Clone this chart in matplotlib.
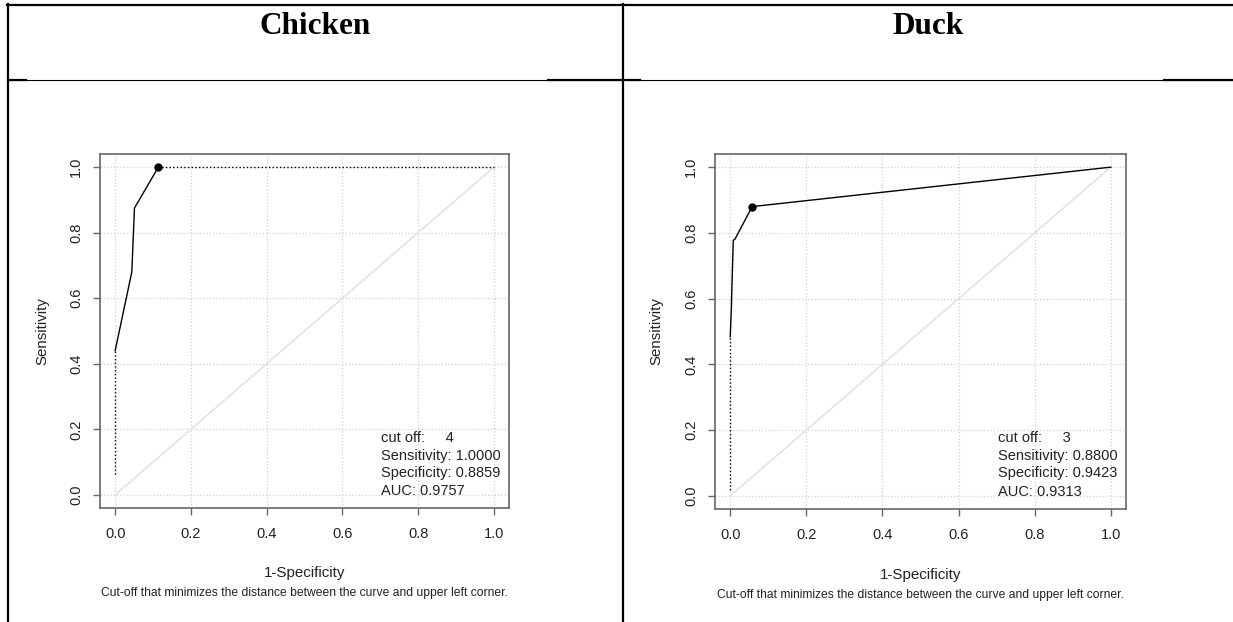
import matplotlib
matplotlib.use("Agg")
import matplotlib.pyplot as plt
import numpy as np

plt.rcParams['font.family'] = ['Liberation Sans', 'DejaVu Sans']

# Panel titles (table header)
species = ["Chicken", "Duck"]

# ROC curve points (1-Specificity, Sensitivity)
chicken_fpr = [0.0, 0.0, 0.044, 0.051, 0.1141, 1.0]
chicken_tpr = [0.065, 0.44, 0.68, 0.875, 1.0, 1.0]
duck_fpr = [0.0, 0.0, 0.003, 0.005, 0.008, 0.012, 0.0577, 1.0]
duck_tpr = [0.018, 0.484, 0.57, 0.657, 0.778, 0.78, 0.88, 1.0]

# Optimal cut-off summary
cutoffs = [4, 3]
sensitivity = [1.0000, 0.8800]
specificity = [0.8859, 0.9423]
auc = [0.9757, 0.9313]

ticks = [0.0, 0.2, 0.4, 0.6, 0.8, 1.0]
tick_labels = ["0.0", "0.2", "0.4", "0.6", "0.8", "1.0"]

W, H = 1233, 622
fig = plt.figure(figsize=(W / 100, H / 100), dpi=100)

# --- table borders (pixel overlay) ---
ov = fig.add_axes([0, 0, 1, 1])
ov.set_xlim(0, W)
ov.set_ylim(H, 0)
ov.axis("off")
ov.plot([7, W], [5, 5], color="black", lw=1.6)
ov.plot([7.8, 7.8], [4, H], color="black", lw=1.6)
ov.plot([622.7, 622.7], [4, H], color="black", lw=1.6)
ov.plot([7, W], [80, 80], color="black", lw=0.8)
ov.plot([8, 26], [80, 80], color="black", lw=1.6)
ov.plot([548, 640], [80, 80], color="black", lw=1.6)
ov.plot([1164, W], [80, 80], color="black", lw=1.6)
ov.text(315, 27, species[0], ha="center", va="center", fontsize=22.5,
        fontweight="bold", family="Liberation Serif")
ov.text(928, 27, species[1], ha="center", va="center", fontsize=22.5,
        fontweight="bold", family="Liberation Serif")

frame_col = "#666666"
text_col = "#222222"


def roc_panel(rect, fpr, tpr, solid_end, spec, sens, cut, a, xlab_y, cap_y):
    ax = fig.add_axes(rect)
    ax.set_xlim(-0.04, 1.04)
    ax.set_ylim(-0.04, 1.04)
    for t in ticks:
        ax.axvline(t, color="#d0d0d0", lw=0.9, ls=":", zorder=0)
        ax.axhline(t, color="#d0d0d0", lw=0.9, ls=":", zorder=0)
    ax.plot([0, 1], [0, 1], color="#dcdcdc", lw=0.9, zorder=1)

    # dotted start, solid curve, dotted tail
    ax.plot(fpr[:2], tpr[:2], color="black", lw=1.0, ls=":", zorder=2)
    ax.plot(fpr[1:solid_end], tpr[1:solid_end], color="black", lw=1.0, zorder=2)
    if solid_end < len(fpr):
        ax.plot(fpr[solid_end - 1:], tpr[solid_end - 1:], color="black",
                lw=1.0, ls=":", zorder=2)
    ax.plot([1 - spec], [sens], "o", color="black", ms=5, zorder=3)

    ax.set_xticks(ticks)
    ax.set_xticklabels(tick_labels)
    ax.set_yticks(ticks)
    ax.set_yticklabels(tick_labels, rotation=90, va="center")
    ax.tick_params(length=5, width=1.0, color=frame_col, labelsize=10.5,
                   labelcolor=text_col)
    ax.tick_params(axis="x", pad=9)
    ax.tick_params(axis="y", pad=7)
    for s in ax.spines.values():
        s.set_color(frame_col)
        s.set_linewidth(1.2)

    ax.set_ylabel("Sensitivity", fontsize=10.8, color=text_col)
    ax.yaxis.set_label_coords(-0.125, 0.5)
    ax.text(0.5, xlab_y, "1-Specificity", transform=ax.transAxes,
            ha="center", va="center", fontsize=10.9, color=text_col)
    ax.text(0.5, cap_y,
            "Cut-off that minimizes the distance between the curve and upper left corner.",
            transform=ax.transAxes, ha="center", va="center", fontsize=8.7,
            color=text_col)

    lines = [f"cut off:     {cut}",
             f"Sensitivity: {sens:.4f}",
             f"Specificity: {spec:.4f}",
             f"AUC: {a:.4f}"]
    ys = [0.175, 0.12, 0.068, 0.013]
    for ln, y in zip(lines, ys):
        ax.text(0.703, y, ln, ha="left", va="center", fontsize=10.5,
                color=text_col)
    return ax


roc_panel([100 / W, 1 - 508 / H, 409 / W, 354 / H], chicken_fpr, chicken_tpr, 5,
          specificity[0], sensitivity[0], cutoffs[0], auc[0], -0.184, -0.240)
roc_panel([715 / W, 1 - 509 / H, 411 / W, 355 / H], duck_fpr, duck_tpr, len(duck_fpr),
          specificity[1], sensitivity[1], cutoffs[1], auc[1], -0.186, -0.242)

fig.savefig("out.png", dpi=100)
